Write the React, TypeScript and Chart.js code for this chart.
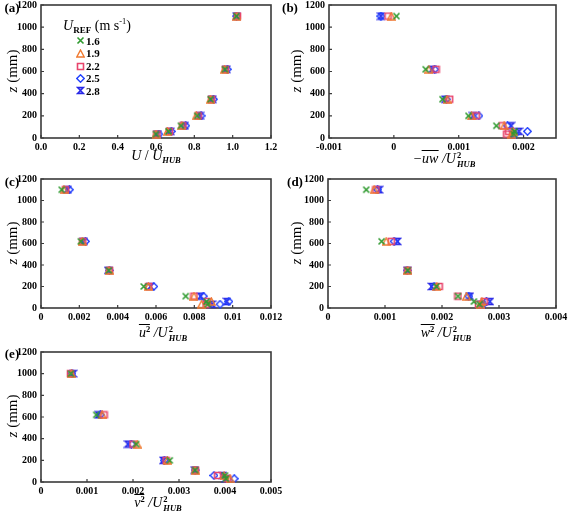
import React, { useEffect, useRef } from 'react';
import { Chart, registerables } from 'chart.js';

Chart.register(...registerables);

// ---------------- data ----------------
const SPEEDS = ['1.6', '1.9', '2.2', '2.5', '2.8'];
const Z_MM = [35, 60, 110, 200, 350, 620, 1100];
const Z_MM_E = [30, 60, 110, 200, 350, 620, 1000];
const X_TICKS_A = [0, 0.2, 0.4, 0.6, 0.8, 1.0, 1.2];
const Y_TICKS = [0, 200, 400, 600, 800, 1000, 1200];

// rows follow SPEEDS, columns follow Z_MM
const U_MEAN = [
  [0.6, 0.665, 0.73, 0.815, 0.885, 0.96, 1.02],
  [0.6, 0.66, 0.735, 0.81, 0.885, 0.958, 1.022],
  [0.605, 0.67, 0.74, 0.82, 0.89, 0.962, 1.025],
  [0.615, 0.68, 0.755, 0.835, 0.9, 0.972, 1.02],
  [0.61, 0.675, 0.75, 0.83, 0.895, 0.968, 1.02],
];
const UW_STRESS = [
  [0.00185, 0.00186, 0.00158, 0.00115, 0.00075, 0.00049, 0.00004],
  [0.00182, 0.00184, 0.0017, 0.0012, 0.00082, 0.00054, -0.00004],
  [0.00174, 0.00177, 0.00167, 0.00127, 0.00086, 0.00065, -0.00009],
  [0.00187, 0.00206, 0.00175, 0.00131, 0.00081, 0.00063, -0.0002],
  [0.00183, 0.00193, 0.00181, 0.00122, 0.00079, 0.00059, -0.0002],
];
const UU_VAR = [
  [0.0087, 0.00864, 0.00755, 0.00536, 0.00354, 0.00208, 0.00108],
  [0.00838, 0.00889, 0.00798, 0.0056, 0.00355, 0.00215, 0.0012],
  [0.00861, 0.00868, 0.00798, 0.00562, 0.00358, 0.00218, 0.00127],
  [0.00934, 0.0098, 0.00847, 0.00588, 0.00357, 0.00232, 0.00148],
  [0.00893, 0.0097, 0.00833, 0.00571, 0.0035, 0.00223, 0.00139],
];
const WW_VAR = [
  [0.00266, 0.00256, 0.00228, 0.0019, 0.0014, 0.00094, 0.00067],
  [0.00268, 0.0027, 0.00243, 0.00191, 0.0014, 0.00102, 0.00081],
  [0.00264, 0.00274, 0.00228, 0.00195, 0.0014, 0.00111, 0.00084],
  [0.00272, 0.00278, 0.00247, 0.00186, 0.00139, 0.00116, 0.00087],
  [0.0027, 0.00284, 0.00249, 0.00182, 0.00139, 0.00122, 0.0009],
];
// rows follow SPEEDS, columns follow Z_MM_E
const VV_VAR = [
  [0.00402, 0.004, 0.00335, 0.0028, 0.00207, 0.0012, 0.00065],
  [0.00411, 0.00398, 0.00335, 0.00275, 0.00209, 0.00133, 0.00066],
  [0.00405, 0.00384, 0.00336, 0.00272, 0.002, 0.00137, 0.00064],
  [0.0042, 0.00376, 0.00335, 0.00268, 0.00197, 0.00129, 0.00067],
  [0.00402, 0.00395, 0.00334, 0.00266, 0.00189, 0.00125, 0.0007],
];

// ---------------- markers ----------------
const MARKER_KINDS = ['cross', 'triangle', 'square', 'diamond', 'hourglass'];

function makeMarker(kind: string): HTMLCanvasElement {
  const c = document.createElement('canvas');
  c.width = 9;
  c.height = 9;
  const g = c.getContext('2d') as CanvasRenderingContext2D;
  g.lineWidth = 1.4;
  g.beginPath();
  if (kind === 'cross') {
    g.strokeStyle = '#2f9a2f';
    g.lineWidth = 1.6;
    g.moveTo(1.5, 1.5); g.lineTo(7.5, 7.5);
    g.moveTo(7.5, 1.5); g.lineTo(1.5, 7.5);
    g.stroke();
  } else if (kind === 'triangle') {
    g.strokeStyle = '#f07a30';
    g.moveTo(4.5, 1); g.lineTo(8.2, 8); g.lineTo(0.8, 8); g.closePath();
    g.stroke();
  } else if (kind === 'square') {
    g.strokeStyle = '#e8446c';
    g.lineWidth = 1.6;
    g.rect(1.5, 1.5, 6, 6);
    g.stroke();
  } else if (kind === 'diamond') {
    g.strokeStyle = '#2040ff';
    g.moveTo(4.5, 0.8); g.lineTo(8.2, 4.5); g.lineTo(4.5, 8.2); g.lineTo(0.8, 4.5); g.closePath();
    g.stroke();
  } else {
    g.fillStyle = 'rgba(80,80,255,0.55)';
    g.strokeStyle = '#2626e6';
    g.moveTo(1.5, 1.5); g.lineTo(7.5, 1.5); g.lineTo(1.5, 7.5); g.lineTo(7.5, 7.5); g.closePath();
    g.fill();
    g.stroke();
  }
  return c;
}

let MARKERS: HTMLCanvasElement[] | null = null;
function getMarkers() {
  if (!MARKERS) MARKERS = MARKER_KINDS.map(makeMarker);
  return MARKERS;
}

// ---------------- layout ----------------
const YW = 36;
const XH = 18;
const PAD_L = 9, PAD_T = 10, PAD_R = 15, PAD_B = 6;
const TICK_FONT = { family: "'Liberation Serif', 'DejaVu Serif', serif", size: 10, weight: 'bold' as const };

const framePlugin = {
  id: 'frame',
  beforeDatasetsDraw(chart: any) {
    const { ctx, chartArea: a, scales } = chart;
    ctx.save();
    ctx.strokeStyle = '#3a3a3a';
    ctx.lineWidth = 1.6;
    ctx.strokeRect(a.left, a.top, a.right - a.left, a.bottom - a.top);
    ctx.lineWidth = 1.2;
    ctx.beginPath();
    scales.x.ticks.forEach((t: any) => {
      const px = scales.x.getPixelForValue(t.value);
      ctx.moveTo(px, a.bottom);
      ctx.lineTo(px, a.bottom - 3);
    });
    scales.y.ticks.forEach((t: any) => {
      const py = scales.y.getPixelForValue(t.value);
      ctx.moveTo(a.left, py);
      ctx.lineTo(a.left + 3, py);
    });
    ctx.stroke();
    ctx.restore();
  },
};

type PanelCfg = {
  l: number; t: number; r: number; b: number;
  xmin: number; xmax: number; xstep: number;
  fmt: (v: number) => string;
  values: number[][];
  z: number[];
};

function Panel({ cfg }: { cfg: PanelCfg }) {
  const ref = useRef<HTMLCanvasElement>(null);
  const w = cfg.r - cfg.l + YW + PAD_L + PAD_R;
  const h = cfg.b - cfg.t + XH + PAD_T + PAD_B;
  useEffect(() => {
    const markers = getMarkers();
    const datasets = cfg.values.map((row, si) => ({
      label: SPEEDS[si],
      data: row.map((v, i) => ({ x: v, y: cfg.z[i] })),
      pointStyle: markers[si],
      clip: false as const,
    }));
    const chart = new Chart(ref.current as HTMLCanvasElement, {
      type: 'scatter',
      data: { datasets },
      options: {
        animation: false,
        responsive: false,
        maintainAspectRatio: false,
        devicePixelRatio: 1,
        events: [],
        layout: { padding: { left: PAD_L, top: PAD_T, right: PAD_R, bottom: PAD_B } },
        plugins: { legend: { display: false }, tooltip: { enabled: false } },
        scales: {
          x: {
            type: 'linear',
            min: cfg.xmin,
            max: cfg.xmax,
            ticks: {
              stepSize: cfg.xstep,
              includeBounds: false,
              autoSkip: false,
              maxRotation: 0,
              padding: 3,
              color: '#000',
              font: TICK_FONT,
              callback: (v: any) => cfg.fmt(Number(v)),
            },
            grid: { display: false, drawTicks: false },
            border: { display: false },
            afterFit: (s: any) => { s.height = XH; },
          },
          y: {
            type: 'linear',
            min: Y_TICKS[0],
            max: Y_TICKS[Y_TICKS.length - 1],
            ticks: {
              stepSize: Y_TICKS[1] - Y_TICKS[0],
              autoSkip: false,
              padding: 4,
              color: '#000',
              font: TICK_FONT,
              callback: (v: any) => String(Math.round(Number(v))),
            },
            grid: { display: false, drawTicks: false },
            border: { display: false },
            afterFit: (s: any) => { s.width = YW; },
          },
        },
      },
      plugins: [framePlugin],
    } as any);
    return () => chart.destroy();
  }, []);
  return (
    <canvas
      ref={ref}
      width={w}
      height={h}
      style={{ position: 'absolute', left: cfg.l - YW - PAD_L, top: cfg.t - PAD_T, width: w, height: h }}
    />
  );
}

const fmtSmall = (v: number) => String(Number(v.toFixed(4)));

const PANELS: PanelCfg[] = [
  { l: 41, t: 5, r: 271, b: 138, xmin: X_TICKS_A[0], xmax: X_TICKS_A[X_TICKS_A.length - 1], xstep: 0.2, fmt: (v) => v.toFixed(1), values: U_MEAN, z: Z_MM },
  { l: 329, t: 5, r: 556, b: 138, xmin: -0.001, xmax: 0.0025, xstep: 0.001, fmt: fmtSmall, values: UW_STRESS, z: Z_MM },
  { l: 41, t: 179, r: 271, b: 308, xmin: 0, xmax: 0.012, xstep: 0.002, fmt: fmtSmall, values: UU_VAR, z: Z_MM },
  { l: 328, t: 179, r: 556, b: 308, xmin: 0, xmax: 0.004, xstep: 0.001, fmt: fmtSmall, values: WW_VAR, z: Z_MM },
  { l: 41, t: 352, r: 271, b: 482, xmin: 0, xmax: 0.005, xstep: 0.001, fmt: fmtSmall, values: VV_VAR, z: Z_MM_E },
];

// ---------------- text overlays ----------------
const SERIF = "'Liberation Serif', 'DejaVu Serif', serif";

function At({ x, y, children, style }: { x: number; y: number; children: any; style?: any }) {
  return (
    <div style={{ position: 'absolute', left: x, top: y, transform: 'translate(-50%,-50%)', whiteSpace: 'nowrap', fontFamily: SERIF, lineHeight: '16px', ...style }}>
      {children}
    </div>
  );
}

function YTitle({ x, y }: { x: number; y: number }) {
  return (
    <At x={x} y={y} style={{ transform: 'translate(-50%,-50%) rotate(-90deg)', fontSize: 15 }}>
      <i>z</i> (mm)
    </At>
  );
}

// stacked superscript "2" over subscript "HUB"
function SupSub() {
  return (
    <span style={{ display: 'inline-block', verticalAlign: '-4px', fontSize: 8.5, lineHeight: '9px', marginLeft: 1, fontWeight: 'bold' }}>
      <span style={{ display: 'block', fontStyle: 'normal' }}>2</span>
      <span style={{ display: 'block', fontStyle: 'italic' }}>HUB</span>
    </span>
  );
}

function Bar({ children }: { children: any }) {
  return <span style={{ borderTop: '1.2px solid #000', paddingTop: 0 }}>{children}</span>;
}

function Sq({ sym }: { sym: string }) {
  return (
    <Bar>
      {sym}<span style={{ fontSize: 8.5, fontStyle: 'normal', fontWeight: 'bold', verticalAlign: '5px' }}>2</span>
    </Bar>
  );
}

function VarTitle({ sym }: { sym: string }) {
  return (
    <i style={{ fontSize: 14 }}>
      <Sq sym={sym} /> /<i>U</i><SupSub />
    </i>
  );
}

function PanelLetter({ x, y, t }: { x: number; y: number; t: string }) {
  return <At x={x} y={y} style={{ fontWeight: 'bold', fontSize: 13 }}>{t}</At>;
}

function Legend() {
  const markers = getMarkers();
  const rows = [40.7, 53.3, 66, 78.3, 90.7];
  return (
    <>
      <div style={{ position: 'absolute', left: 63, top: 18, fontFamily: SERIF, fontSize: 14, whiteSpace: 'nowrap', lineHeight: 1 }}>
        <i>U</i><sub style={{ fontSize: '0.65em', fontWeight: 'bold' }}>REF</sub> (m s<sup style={{ fontSize: '0.6em' }}>-1</sup>)
      </div>
      {SPEEDS.map((s, i) => (
        <React.Fragment key={s}>
          <img src={markers[i].toDataURL()} style={{ position: 'absolute', left: 80 - 4.5, top: rows[i] - 4.5, width: 9, height: 9 }} />
          <div style={{ position: 'absolute', left: 86, top: rows[i] - 6, fontFamily: SERIF, fontWeight: 'bold', fontSize: 11, lineHeight: '12px' }}>{s}</div>
        </React.Fragment>
      ))}
    </>
  );
}

export default function App() {
  return (
    <div style={{ position: 'absolute', left: 0, top: 0, width: 568, height: 512, background: '#fff', overflow: 'hidden' }}>
      {PANELS.map((p, i) => <Panel key={i} cfg={p} />)}
      <PanelLetter x={12} y={8} t="(a)" />
      <PanelLetter x={290} y={8} t="(b)" />
      <PanelLetter x={12} y={182} t="(c)" />
      <PanelLetter x={295} y={182} t="(d)" />
      <PanelLetter x={12} y={354} t="(e)" />
      <YTitle x={12} y={71} />
      <YTitle x={296} y={71} />
      <YTitle x={12} y={243} />
      <YTitle x={296} y={243} />
      <YTitle x={12} y={416} />
      <At x={156} y={158} style={{ fontSize: 14 }}>
        <i>U</i> / <i>U</i><sub style={{ fontSize: 8.5, fontWeight: 'bold', fontStyle: 'italic' }}>HUB</sub>
      </At>
      <At x={444} y={160} style={{ fontSize: 14 }}>
        <i>−<Bar>uw</Bar> /<i>U</i><SupSub /></i>
      </At>
      <At x={163} y={332}><VarTitle sym="u" /></At>
      <At x={446} y={332}><VarTitle sym="w" /></At>
      <At x={158} y={502}><VarTitle sym="v" /></At>
      <Legend />
    </div>
  );
}
